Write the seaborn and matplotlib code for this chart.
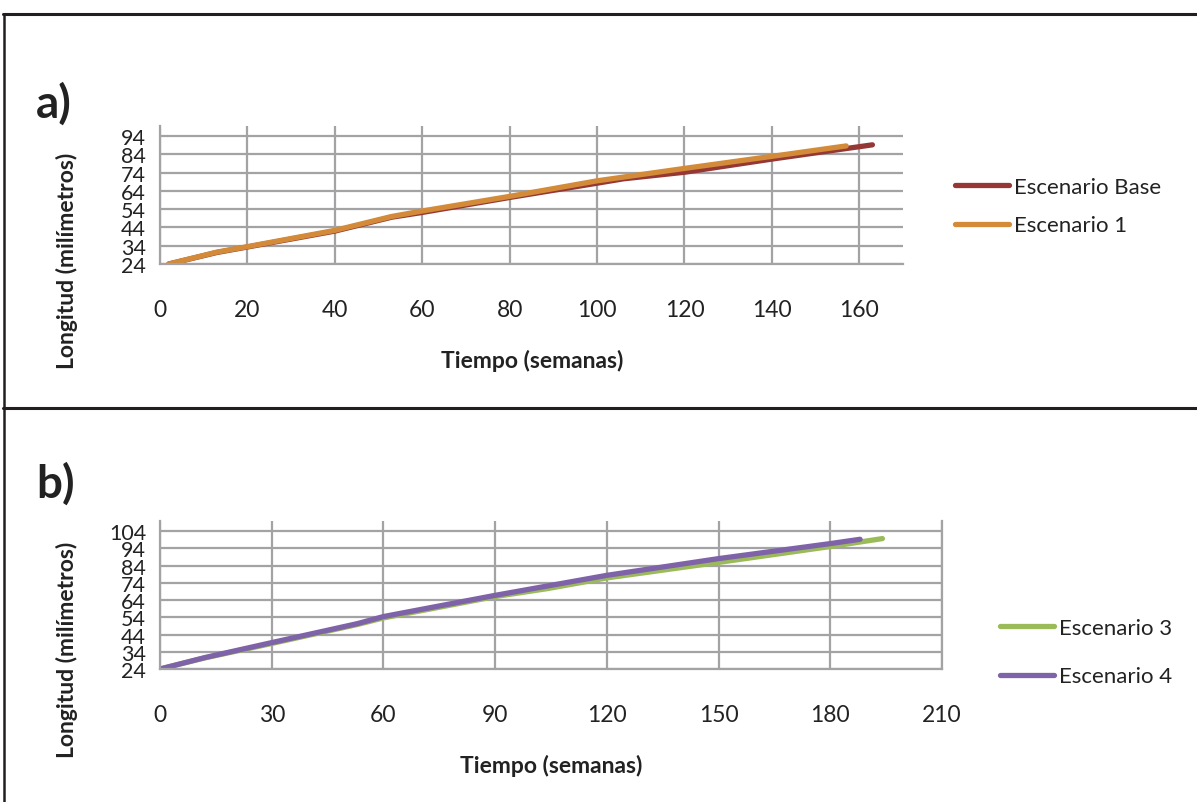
import matplotlib
matplotlib.use("Agg")
import matplotlib.pyplot as plt
from matplotlib.lines import Line2D
import pandas as pd
import seaborn as sns

# Panel a: growth curves (weeks, millimetres)
base_weeks = [2, 13, 20, 40, 53, 60, 80, 100, 106, 120, 140, 163]
base_len = [24, 30.3, 33.3, 42.0, 49.6, 52.2, 60.4, 68.2, 70.6, 74.2, 81.4, 89.2]
esc1_weeks = [2, 13, 20, 40, 53, 60, 80, 100, 120, 140, 157]
esc1_len = [24, 30.5, 33.5, 42.4, 50.0, 53.0, 61.0, 69.5, 76.3, 82.9, 88.6]

# Panel b
esc3_weeks = [0, 12, 30, 53, 60, 90, 104, 120, 150, 180, 194]
esc3_len = [24, 30.4, 38.8, 49.8, 53.6, 66.0, 70.6, 76.8, 85.8, 95.0, 99.6]
esc4_weeks = [0, 12, 30, 53, 60, 90, 120, 150, 180, 188]
esc4_len = [24, 30.6, 39.3, 50.3, 54.4, 66.7, 78.3, 88.0, 96.7, 99.2]

labels_a = ["Escenario Base", "Escenario 1"]
labels_b = ["Escenario 3", "Escenario 4"]
colors_a = ["#953735", "#D38A39"]
colors_b = ["#9BBB59", "#7F63A8"]

yticks_a = [24, 34, 44, 54, 64, 74, 84, 94]
yticks_b = [24, 34, 44, 54, 64, 74, 84, 94, 104]
xticks_a = [0, 20, 40, 60, 80, 100, 120, 140, 160]
xticks_b = [0, 30, 60, 90, 120, 150, 180, 210]

sns.set_style("white")
plt.rcParams["font.family"] = ["Lato", "DejaVu Sans"]

W, H = 1197, 803
fig = plt.figure(figsize=(W / 100, H / 100), dpi=100)

FS = 16.5
FS_Y = 15.5


def frac_axes(left, top, right, bottom):
    return fig.add_axes([left / W, 1 - bottom / H, (right - left) / W, (bottom - top) / H])


def make_df(weeks_list, len_list, names):
    frames = []
    for w, l, n in zip(weeks_list, len_list, names):
        frames.append(pd.DataFrame({"semanas": w, "longitud": l, "escenario": n}))
    return pd.concat(frames, ignore_index=True)


GRID = "#A3A3A5"
TXT = "#222222"


def style_axes(ax, xticks, yticks, xlim, ylim, right_spine):
    ax.set_xlim(*xlim)
    ax.set_ylim(*ylim)
    ax.set_xticks(xticks)
    ax.set_yticks(yticks)
    ax.grid(True, color=GRID, linewidth=1.6)
    ax.set_axisbelow(True)
    for side in ["left", "bottom"]:
        ax.spines[side].set_color(GRID)
        ax.spines[side].set_linewidth(1.6)
    ax.spines["top"].set_visible(False)
    ax.spines["right"].set_visible(right_spine)
    ax.spines["right"].set_color(GRID)
    ax.spines["right"].set_linewidth(1.6)
    ax.tick_params(axis="both", length=0, colors=TXT)
    ax.tick_params(axis="x", pad=25, labelsize=FS)
    ax.tick_params(axis="y", pad=10, labelsize=FS_Y)
    ax.set_xlabel("")
    ax.set_ylabel("")


# ---- panel a ----
ax1 = frac_axes(160, 127, 903, 265)
df_a = make_df([base_weeks, esc1_weeks], [base_len, esc1_len], labels_a)
sns.lineplot(data=df_a, x="semanas", y="longitud", hue="escenario",
             palette=dict(zip(labels_a, colors_a)), linewidth=3.8,
             solid_capstyle="round", legend=False, ax=ax1)
style_axes(ax1, xticks_a, yticks_a, (0, 170), (24, 99.5), False)

# ---- panel b ----
ax2 = frac_axes(160, 522, 942, 670)
df_b = make_df([esc3_weeks, esc4_weeks], [esc3_len, esc4_len], labels_b)
sns.lineplot(data=df_b, x="semanas", y="longitud", hue="escenario",
             palette=dict(zip(labels_b, colors_b)), linewidth=3.8,
             solid_capstyle="round", legend=False, ax=ax2)
style_axes(ax2, xticks_b, yticks_b, (0, 210), (24, 109.8), True)

# axis titles
fig.text(532 / W, 1 - 361 / H, "Tiempo (semanas)", ha="center", va="center",
         fontsize=FS, fontweight="bold", color=TXT)
fig.text(551 / W, 1 - 766 / H, "Tiempo (semanas)", ha="center", va="center",
         fontsize=FS, fontweight="bold", color=TXT)
fig.text(67 / W, 1 - 261 / H, "Longitud (milímetros)", ha="center", va="center",
         rotation=90, fontsize=FS, fontweight="bold", color=TXT)
fig.text(67 / W, 1 - 650 / H, "Longitud (milímetros)", ha="center", va="center",
         rotation=90, fontsize=FS, fontweight="bold", color=TXT)

# panel letters
fig.text(36 / W, 1 - 104 / H, "a)", ha="left", va="center",
         fontsize=33, fontweight="bold", color=TXT)
fig.text(36 / W, 1 - 484 / H, "b)", ha="left", va="center",
         fontsize=33, fontweight="bold", color=TXT)

# legends
handles_a = [Line2D([0], [0], color=c, lw=3.8, solid_capstyle="round") for c in colors_a]
fig.legend(handles_a, labels_a, loc="center left",
           bbox_to_anchor=(955 / W, 1 - 207 / H), frameon=False, borderpad=0,
           borderaxespad=0, fontsize=FS - 0.5, handlelength=2.45, handletextpad=0.2,
           labelspacing=0.85, labelcolor=TXT)
handles_b = [Line2D([0], [0], color=c, lw=3.8, solid_capstyle="round") for c in colors_b]
fig.legend(handles_b, labels_b, loc="center left",
           bbox_to_anchor=(1000 / W, 1 - 653 / H), frameon=False, borderpad=0,
           borderaxespad=0, fontsize=FS - 0.5, handlelength=2.45, handletextpad=0.2,
           labelspacing=1.3, labelcolor=TXT)

# outer frame lines
BORDER = "#231F20"
fig.add_artist(Line2D([3 / W, 1], [1 - 15 / H, 1 - 15 / H], color=BORDER, lw=2.2,
                      transform=fig.transFigure))
fig.add_artist(Line2D([3 / W, 1], [1 - 409 / H, 1 - 409 / H], color=BORDER, lw=2.2,
                      transform=fig.transFigure))
fig.add_artist(Line2D([4 / W, 4 / W], [0, 1 - 15 / H], color=BORDER, lw=1.8,
                      transform=fig.transFigure))

fig.savefig("out.png", dpi=100, facecolor="white")
